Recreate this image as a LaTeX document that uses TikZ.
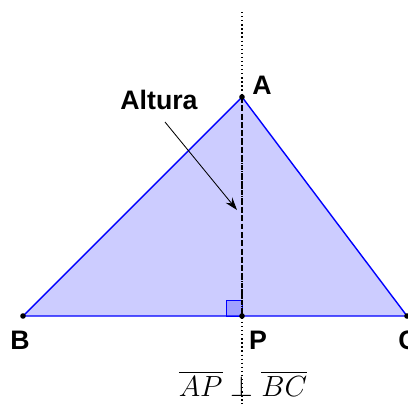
\documentclass[tikz,border=0pt]{standalone}
\usepackage{amsmath}
\usepackage{fontspec}
\setmainfont{Latin Modern Roman}
\newfontfamily\labelfont{Liberation Sans}
\usetikzlibrary{arrows.meta}
\definecolor{trifill}{RGB}{204,204,255}
\definecolor{sqfill}{RGB}{160,160,255}
\begin{document}
\begin{tikzpicture}[x=0.025cm,y=-0.025cm,
    ptlabel/.style={font=\labelfont\bfseries\fontsize{19}{22}\selectfont, inner sep=0pt}]
            \useasboundingbox (0,0) rectangle (408,404);

            % Vertices and foot of the altitude
            \coordinate (A) at (242,97);
            \coordinate (B) at (23,316);
            \coordinate (C) at (407,316);
            \coordinate (P) at (242,316);
            \coordinate (top) at (242,12);
            \coordinate (bottom) at (242,404);

            % Filled triangle
            \fill[trifill] (A) -- (B) -- (C) -- cycle;

            % Right angle mark
            \fill[sqfill] (P) rectangle ++(-16,-16);
            \draw[blue, line width=0.7pt] (P) rectangle ++(-16,-16);

            % Sides
            \draw[blue, line width=1pt] (A) -- (B) -- (C) -- cycle;

            % Perpendicular line through A and P
            \draw[black, dotted, line width=0.9pt] (top) -- (bottom);
            \draw[black, dash pattern=on 4pt off 2pt, line width=1pt] (A) -- (P);

            % Points
            \fill[black] (A) circle[radius=2.8];
            \fill[black] (B) circle[radius=2.8];
            \fill[black] (C) circle[radius=2.8];
            \fill[black] (P) circle[radius=2.8];

            % Labels
            \node[ptlabel] (lA) at (262,85) {A};
            \node[ptlabel] (lB) at (20,340) {B};
            \node[ptlabel] (lP) at (258,340) {P};
            \node[ptlabel, anchor=west] (lC) at (398,340) {C};
            \node[ptlabel] (alt) at (159,100) {Altura};

            % Arrow to the altitude
            \coordinate (tip) at (237,210);
            \draw[-{Stealth[length=9pt,width=6pt]}, line width=0.6pt] (165,122) -- (tip);

            % Perpendicularity statement
            \node[inner sep=0pt, font=\fontsize{21}{24}\selectfont] (rel) at (243,384)
                {$\overline{AP}\perp\overline{BC}$};
        \end{tikzpicture}
\end{document}
